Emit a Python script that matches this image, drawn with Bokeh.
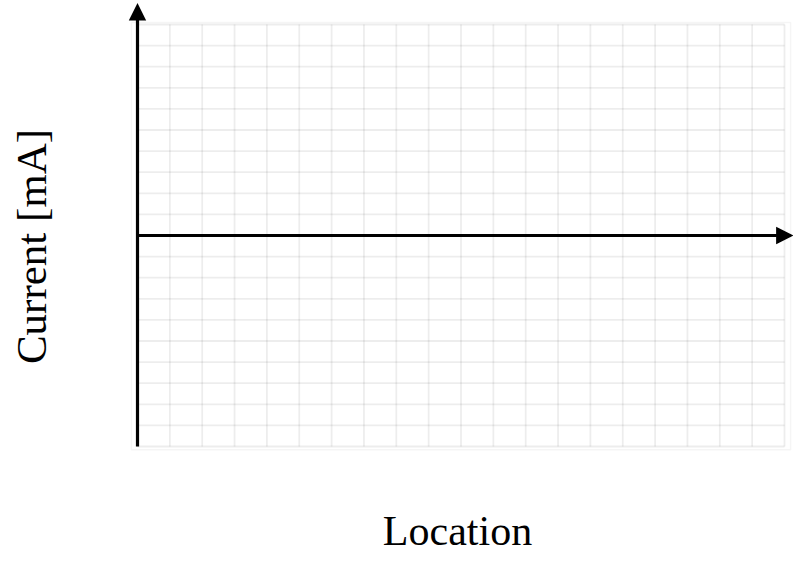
from bokeh.plotting import figure
from bokeh.models import Arrow, NormalHead, Label
from bokeh.embed import file_html
from bokeh.resources import INLINE
import math

# Data / tick positions
x_grid = list(range(0, 21))        # location grid lines
y_grid = list(range(-10, 11))      # current grid lines
x_label = "Location"
y_label = "Current [mA]"

W, H = 793, 553
px_x = 32.35   # pixels per x unit
px_y = 21.1    # pixels per y unit
x0_canvas = 137.0   # canvas px of x=0
ytop_canvas = 24.0  # canvas px of y=10

x_start = -x0_canvas / px_x
x_end = (W - x0_canvas) / px_x
y_end = 10 + ytop_canvas / px_y
y_start = y_end - H / px_y

p = figure(width=W, height=H, x_range=(x_start, x_end), y_range=(y_start, y_end),
           x_axis_location=None, y_axis_location=None, toolbar_location=None,
           output_backend="svg", min_border=0)
p.xgrid.visible = False
p.ygrid.visible = False
p.outline_line_color = None
p.background_fill_color = "white"
p.border_fill_color = "white"

# faint outer box
p.quad(left=[x_grid[0] - 0.19], right=[x_grid[-1] + 0.19],
       bottom=[y_grid[0] - 0.15], top=[y_grid[-1] + 0.1],
       fill_color=None, line_color="black", line_alpha=0.04, line_width=1.5)

# grid
p.segment(x0=x_grid, x1=x_grid, y0=[y_grid[0]] * len(x_grid), y1=[y_grid[-1]] * len(x_grid),
          line_color="black", line_alpha=0.07, line_width=1.8)
p.segment(x0=[x_grid[0]] * len(y_grid), x1=[x_grid[-1]] * len(y_grid), y0=y_grid, y1=y_grid,
          line_color="black", line_alpha=0.07, line_width=1.8)

# axes arrows
p.add_layout(Arrow(end=NormalHead(size=15, fill_color="black", fill_alpha=1.0,
                                  line_color="black", line_width=1.5, line_join="miter"),
                   x_start=0, y_start=y_grid[0], x_end=0, y_end=y_end - 0.2,
                   line_color="black", line_width=3.2))
p.add_layout(Arrow(end=NormalHead(size=15, fill_color="black", fill_alpha=1.0,
                                  line_color="black", line_width=1.5, line_join="miter"),
                   x_start=0, y_start=0, x_end=x_end - 0.05, y_end=0,
                   line_color="black", line_width=3.2))

p.add_layout(Label(x=457, y=H - 530, x_units="screen", y_units="screen", text=x_label,
                   text_font="Liberation Serif", text_font_size="42px",
                   text_align="center", text_baseline="middle", text_color="black"))
p.add_layout(Label(x=31, y=H - 246, x_units="screen", y_units="screen", text=y_label,
                   angle=math.pi / 2,
                   text_font="Liberation Serif", text_font_size="43px",
                   text_align="center", text_baseline="middle", text_color="black"))

open("out.html", "w").write(file_html(p, INLINE))
